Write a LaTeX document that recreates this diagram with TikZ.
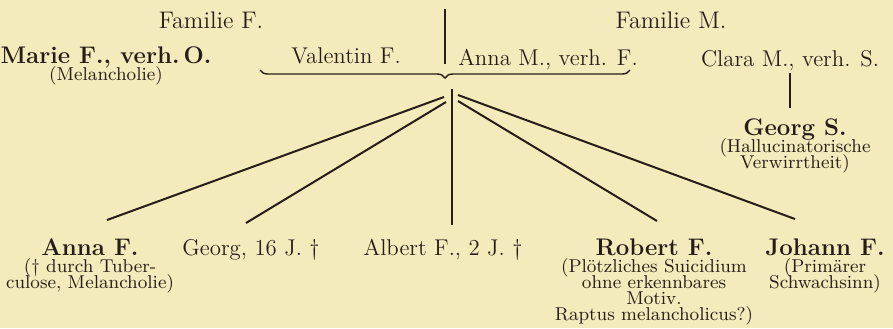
\documentclass[tikz,border=0pt,11pt]{standalone}
\usepackage{xcolor}
\definecolor{paper}{RGB}{244,235,188}
\definecolor{ink}{RGB}{38,30,22}
\usepackage{tikz}
\usetikzlibrary{positioning,decorations.pathreplacing}
\tikzset{
	fam/.style  = {anchor=base,inner sep=0pt,text=ink,font=\large},
	kin/.style  = {anchor=base,inner sep=0pt,text=ink,
		font={\fontsize{11.4}{14}\selectfont}},
	pat/.style  = {anchor=base,inner sep=0pt,text=ink,font=\large\bfseries},
	diag/.style = {inner sep=0pt,text=ink,align=center,
		font={\fontsize{9.3}{8}\selectfont\lineskiplimit=-5pt\relax}},
	tie/.style  = {line width=1pt,draw=ink},
	brc/.style  = {decorate,decoration={brace,mirror,amplitude=4pt},
		line width=0.7pt,draw=ink},
}

\begin{document}
\begin{tikzpicture}[x=0.5pt,y=-0.5pt]
	\fill[paper] (0,0) rectangle (893,328);
	\useasboundingbox (0,0) rectangle (893,328);
	
	\node (famF) [fam] at (211,28) {Familie F.};
	\node (famM) [fam] at (671,28) {Familie M.};
	\coordinate (divtop) at (445,9);
	\coordinate (divbot) at (445,64);
	\draw[tie] (divtop) -- (divbot);
	
	\node (marie) [pat] at (106,63) {Marie F., verh.\,O.};
	\node (marieD) [diag,below=1.5pt of marie.base] {(Melancholie)};
	\node (valentin) [kin] at (346,63) {Valentin F.};
	\node (annaM) [kin] at (548,65) {Anna M., verh. F.};
	\node (clara) [kin] at (790,66) {Clara M., verh. S.};
	
	%% Klammer ueber dem Elternpaar
	\coordinate (bracel) at (260,70);
	\coordinate (bracer) at (630,70);
	\draw[brc] (bracel) -- (bracer);
	
	\node (georgS) [pat] at (795,135) {Georg S.};
	\node (georgSD) [diag,below=1.5pt of georgS.base]
	{(Hallucinatorische\\Verwirrtheit)};
	\draw[tie,shorten <=1pt,shorten >=5pt] (clara.south) -- (clara.south |- georgS.north);
	
	\node (annaF) [pat] at (90,255) {Anna F.};
	\node (annaFD) [diag,below=1.5pt of annaF.base]
	{(\dag\ durch Tuber-\\culose, Melancholie)};
	\node (georgF) [kin] at (251,255) {Georg, 16 J. \dag};
	\node (albert) [kin] at (443,255) {Albert F., 2 J. \dag};
	\node (robert) [pat] at (654,255) {Robert F.};
	\node (robertD) [diag,below=1.5pt of robert.base]
	{(Plötzliches Suicidium\\ohne erkennbares\\Motiv.\\Raptus melancholicus?)};
	\node (johann) [pat] at (825,255) {Johann F.};
	\node (johannD) [diag,below=1.5pt of johann.base]
	{(Primärer\\Schwachsinn)};
	
	%% Kinder
	\coordinate (stem) at (452,89);
	\coordinate (fanA) at (444,97);
	\coordinate (fanG) at (446,102);
	\coordinate (fanR) at (458,101);
	\coordinate (fanJ) at (458,95);
	\coordinate (endA) at (107,220);
	\coordinate (endG) at (246,223);
	\coordinate (endR) at (657,221);
	\coordinate (endJ) at (795,219);
	
	\draw[tie,shorten >=6.5pt] (stem) -- (stem |- albert.north);
	\draw[tie] (fanA) -- (endA);
	\draw[tie] (fanG) -- (endG);
	\draw[tie] (fanR) -- (endR);
	\draw[tie] (fanJ) -- (endJ);
\end{tikzpicture}
\end{document}
